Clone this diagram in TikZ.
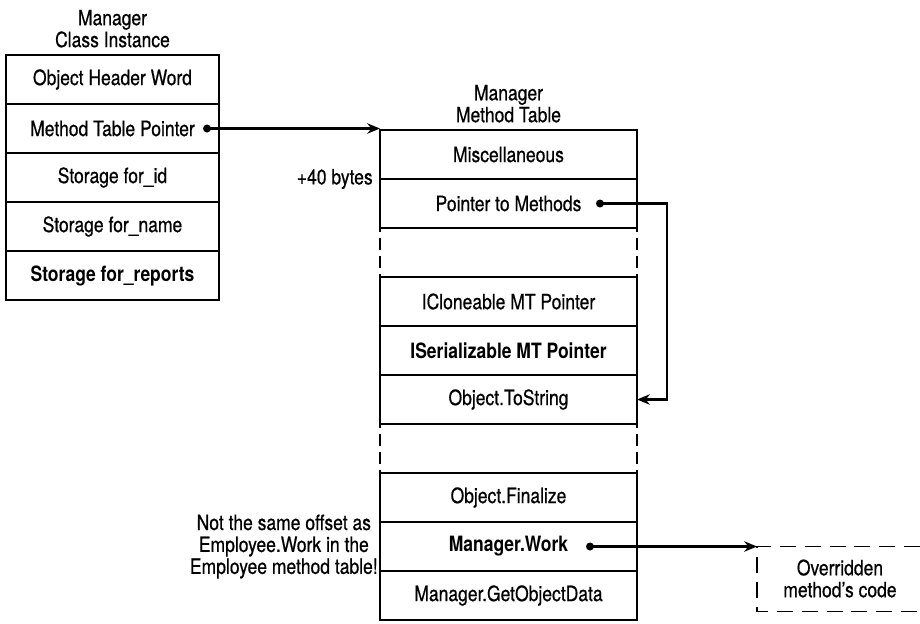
\documentclass[tikz,border=0pt]{standalone}
\usepackage{fontspec}
\setmainfont{TeX Gyre Heros}[FakeStretch=0.83, UprightFeatures={FakeBold=0.6}]
\usetikzlibrary{positioning}
\usetikzlibrary{arrows.meta}

\begin{document}
\begin{tikzpicture}[
    font=\fontsize{15}{15.6}\selectfont,
    slot/.style={rectangle, draw=black, line width=1pt, inner sep=0pt, outer sep=0pt, minimum height=1.225cm, anchor=north},
    objslot/.style={slot, minimum width=5.325cm},
    mtslot/.style={slot, minimum width=6.425cm},
    gapslot/.style={rectangle, inner sep=0pt, outer sep=0pt, minimum height=1.225cm, minimum width=6.425cm, anchor=north},
    gapside/.style={line width=1pt, dash pattern=on 0.3cm off 0.15cm, dash phase=0.2cm},
    title/.style={align=center, inner sep=0pt},
    dot/.style={circle, fill=black, inner sep=0pt, minimum size=0.2cm},
    link/.style={line width=1.8pt, -{Stealth[length=0.32cm, width=0.26cm]}},
    dashbox/.style={line width=0.8pt, dash pattern=on 0.4cm off 0.22cm}
]
    \useasboundingbox (0, 0) rectangle (23, -15.575);

    \node [objslot] (hdr) at (2.8125, -1.375) {Object Header Word};
    \node [objslot, below=0cm of hdr] (mtp) {Method Table Pointer};
    \node [objslot, below=0cm of mtp] (sid) {Storage for\_id};
    \node [objslot, below=0cm of sid] (sname) {Storage for\_name};
    \node [objslot, below=0cm of sname] (sreports) {\bfseries Storage for\_reports};
    \node [title, above=0.18cm of hdr] (objtitle) {Manager\\Class Instance};

    \node [mtslot] (misc) at (12.7125, -3.25) {Miscellaneous};
    \node [mtslot, below=0cm of misc] (ptrm) {Pointer to Methods};
    \node [gapslot, below=0cm of ptrm] (gapa) {};
    \node [mtslot, below=0cm of gapa] (iclone) {ICloneable MT Pointer};
    \node [mtslot, below=0cm of iclone] (iser) {\bfseries ISerializable MT Pointer};
    \node [mtslot, below=0cm of iser] (tostr) {Object.ToString};
    \node [gapslot, below=0cm of tostr] (gapb) {};
    \node [mtslot, below=0cm of gapb] (final) {Object.Finalize};
    \node [mtslot, below=0cm of final] (work) {\bfseries Manager.Work};
    \node [mtslot, below=0cm of work] (getobj) {Manager.GetObjectData};
    \node [title, above=0.18cm of misc] (mttitle) {Manager\\Method Table};

    \node [anchor=east, inner sep=0pt] (offset) at ([xshift=-0.175cm]misc.south west) {+40 bytes};
    \node [title, anchor=east] (note) at ([xshift=-0.05cm]work.west) {Not the same offset as\\Employee.Work in the\\Employee method table!};

    \node [dot] (mtpdot) at ([xshift=-0.3cm]mtp.east) {};
    \node [dot] (ptrdot) at ([xshift=-0.925cm]ptrm.east) {};
    \node [dot] (workdot) at ([xshift=-1.175cm]work.east) {};

    \coordinate (turn) at ([xshift=0.75cm]ptrm.east);
    \coordinate (codetl) at ([xshift=3cm]work.east);
    \node [title] (code) at ([xshift=2.075cm, yshift=-0.8cm]codetl) {Overridden\\method's code};

    \draw [gapside] (gapa.north west) -- (gapa.south west);
    \draw [gapside] (gapa.north east) -- (gapa.south east);
    \draw [gapside] (gapb.north west) -- (gapb.south west);
    \draw [gapside] (gapb.north east) -- (gapb.south east);

    \draw [link] (mtpdot.center) -- (mtpdot.center -| misc.west);
    \draw [link] (ptrdot.center) -- (ptrdot.center -| turn) |- (tostr.east);
    \draw [link] (workdot.center) -- (codetl);
    \draw [dashbox] ([xshift=4.075cm]codetl) -- (codetl) -- ++(0, -1.625) -- ++(4.075, 0);
\end{tikzpicture}
\end{document}
